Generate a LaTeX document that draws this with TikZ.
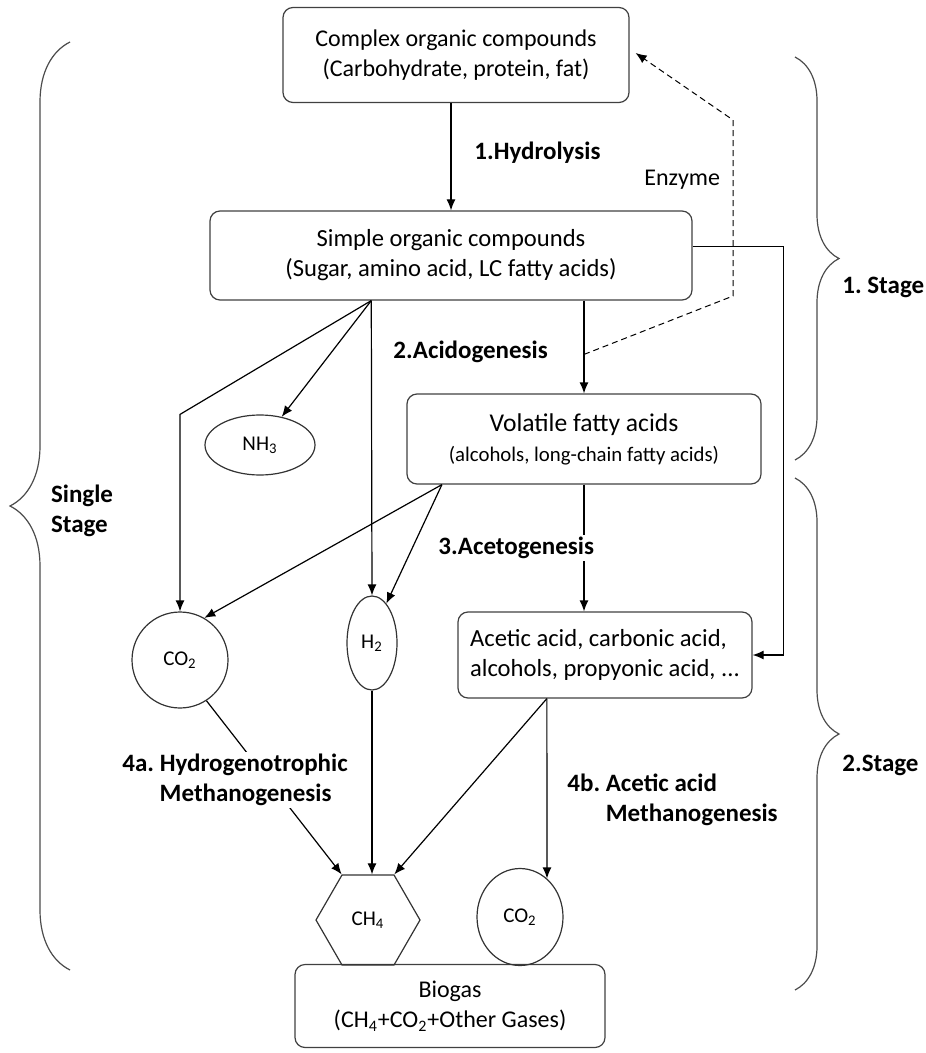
\documentclass[tikz,border=0pt]{standalone}
\usepackage{fontspec}
\setmainfont{Carlito}
\usetikzlibrary{shapes.geometric,decorations.pathreplacing,arrows.meta,calc}
\frenchspacing

\begin{document}
\begin{tikzpicture}[x=0.5pt, y=-0.5pt,
    procbox/.style={draw=black!75, rounded corners=5pt, line width=0.6pt, align=center, inner sep=2pt},
    gas/.style={draw=black!80, line width=0.6pt, inner sep=1pt, font=\fontsize{10.5}{12}\selectfont},
    lbl/.style={font=\fontsize{12.5}{15}\selectfont\bfseries, align=left, inner sep=1pt},
    arr/.style={-{Latex[length=5.5pt,width=4.5pt]}, line width=0.6pt},
    brc/.style={decorate, draw=black!70, line width=0.6pt}]
    \useasboundingbox (0,0) rectangle (925,1053);
    \fontsize{12}{15}\selectfont

    % Boxes
    \node[procbox, minimum width=173pt, minimum height=47.5pt] (complex) at (456,55)
        {Complex organic compounds\\(Carbohydrate, protein, fat)};
    \node[procbox, minimum width=241pt, minimum height=44.5pt] (simple) at (451,255.5)
        {\fontsize{12.3}{15}\selectfont Simple organic compounds\\\fontsize{12.3}{15}\selectfont(Sugar, amino acid, LC fatty acids)};
    \node[procbox, minimum width=177pt, minimum height=45pt] (volatile) at (584,439)
        {{\fontsize{12.8}{15}\selectfont Volatile fatty acids}\\{\fontsize{10.4}{12}\selectfont(alcohols, long-chain fatty acids)}};
    \node[procbox, align=left, minimum width=147pt, minimum height=43pt] (acetic) at (605,655)
        {\fontsize{12.3}{17}\selectfont Acetic acid, carbonic acid,\\\fontsize{12.3}{17}\selectfont alcohols, propyonic acid, ...};
    \node[procbox, minimum width=155pt, minimum height=41.5pt] (biogas) at (450,1006)
        {Biogas\\(CH\textsubscript{4}+CO\textsubscript{2}+Other Gases)};

    % Gases
    \node[gas, ellipse, minimum width=55pt, minimum height=30pt] (nh3) at (260,445) {NH\textsubscript{3}};
    \node[gas, circle, minimum size=48pt] (co2a) at (180,660) {CO\textsubscript{2}};
    \node[gas, ellipse, minimum width=25pt, minimum height=47pt] (h2) at (372,643) {H\textsubscript{2}};
    \node[gas, regular polygon, regular polygon sides=6, minimum size=52pt] (ch4) at (368,920) {CH\textsubscript{4}};
    \node[gas, ellipse, minimum width=43pt, minimum height=48.5pt] (co2b) at (520,917) {CO\textsubscript{2}};

    % Outlets
    \coordinate (sB) at ($(simple.south west)!0.335!(simple.south east)$);
    \coordinate (vB) at ($(volatile.south west)!0.1!(volatile.south east)$);
    \coordinate (aB) at ($(acetic.south west)!0.303!(acetic.south east)$);
    \coordinate (enz) at ($(simple.south -| volatile.north)!0.58!(volatile.north)$);
    \coordinate (dk1) at (733,296);
    \coordinate (dk2) at (733,120);

    % Stage 1
    \draw[arr] (complex.south -| simple.north) -- (simple.north);
    \draw[arr] (simple.south -| volatile.north) -- (volatile.north);
    \draw[arr] ([yshift=4.5pt]simple.east) -- ++(91,0) |- (acetic.east);
    \draw[arr, densely dashed, line width=0.5pt] (enz) -- (dk1) -- (dk2) -- ([xshift=3pt,yshift=1pt]complex.east);
    \draw[arr] (sB) -- (co2a.north |- nh3.north) -- (co2a.north);
    \draw[arr] (sB) -- (nh3);
    \draw[arr] (sB) -- (h2.north);

    % Stage 2
    \draw[arr] (vB) -- (co2a.60);
    \draw[arr] (vB) -- (h2.70);
    \draw[arr] (volatile.south) -- (volatile.south |- acetic.north);
    \draw[arr] (co2a.-57) -- (ch4.120);
    \draw[arr] (h2.south) -- (h2.south |- ch4.north);
    \draw[arr] (aB) -- (ch4.60);
    \draw[arr] (aB) -- (co2b.55);

    % Labels
    \node[lbl, anchor=west] (hyd) at (472,153) {1.Hydrolysis};
    \node[anchor=west, inner sep=1pt] (enzl) at (642,180) {Enzyme};
    \node[lbl, anchor=west] (acid) at (391,352) {2.Acidogenesis};
    \node[lbl, anchor=west, fill=white] (aceto) at (436,548) {3.Acetogenesis};
    \node[lbl, anchor=west, fill=white] (hydro) at (120,780) {4a. Hydrogenotrophic\\\phantom{4a. }Methanogenesis};
    \node[lbl, anchor=west] (aceta) at (565,800) {4b. Acetic acid\\\phantom{4b. }Methanogenesis};

    % Braces
    \draw[brc, decoration={brace, amplitude=30pt}] (70,970) -- (70,42);
    \draw[brc, decoration={brace, amplitude=22pt}] (795,57) -- (795,460);
    \draw[brc, decoration={brace, amplitude=22pt}] (795,478) -- (795,990);
    \node[lbl] (single) at (82,511) {Single\\Stage};
    \node[lbl, anchor=west] (st1) at (840,287) {1. Stage};
    \node[lbl, anchor=west] (st2) at (840,765) {2.Stage};
\end{tikzpicture}
\end{document}
